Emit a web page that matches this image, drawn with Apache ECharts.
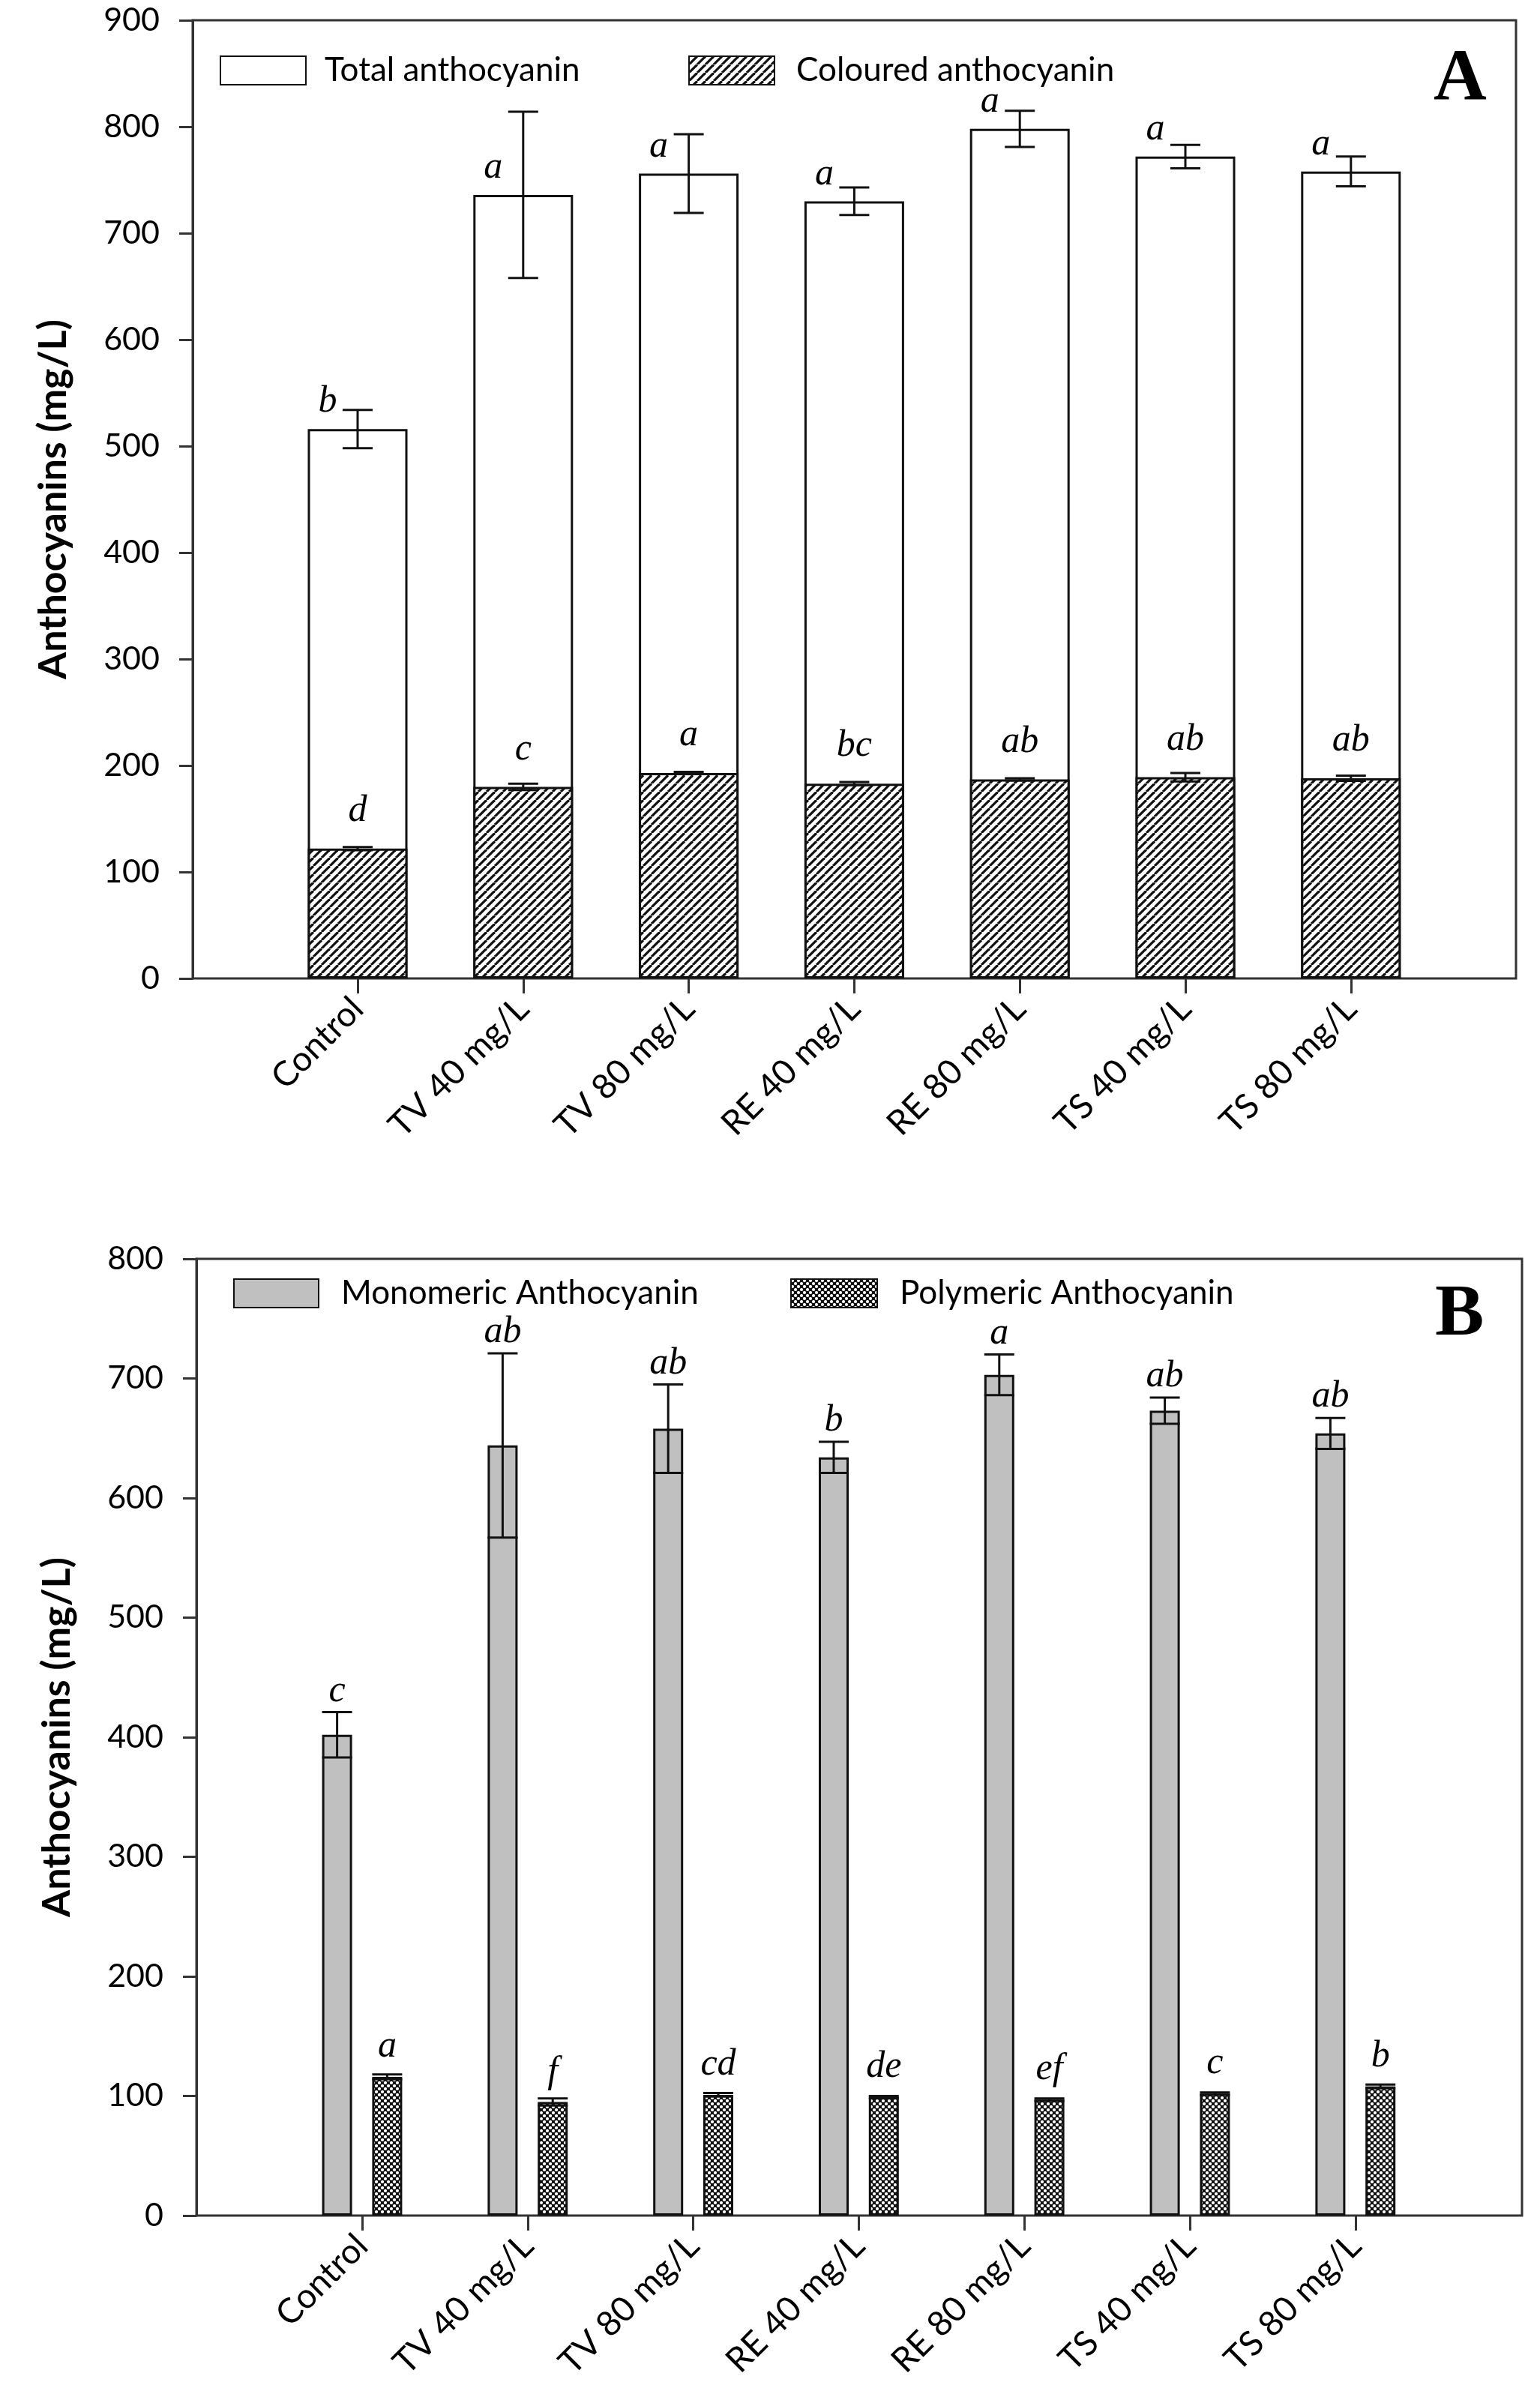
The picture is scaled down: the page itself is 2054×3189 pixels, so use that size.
<!DOCTYPE html>
<html><head><meta charset="utf-8">
<script src="https://cdn.jsdelivr.net/npm/echarts@6/dist/echarts.min.js"></script>
<style>html,body{margin:0;padding:0;background:#fff}#c{width:2054px;height:3189px}</style>
</head><body><div id="c"></div>
<script>
// ---------- data ----------
const categories = ['Control','TV 40 mg/L','TV 80 mg/L','RE 40 mg/L','RE 80 mg/L','TS 40 mg/L','TS 80 mg/L'];
const totalA = [516, 736, 756, 730, 798, 772, 758];
const totalAErr = [18, 78, 37, 13, 17, 11, 14];
const totalALetters = ['b','a','a','a','a','a','a'];
const colouredA = [122, 180, 193, 183, 187, 189, 188];
const colouredAErr = [1.5, 3, 1, 1.5, 1, 4, 2.5];
const colouredALetters = ['d','c','a','bc','ab','ab','ab'];
const monoB = [402, 644, 658, 634, 703, 673, 654];
const monoBErr = [19, 77, 37, 13, 17, 11, 13];
const monoBLetters = ['c','ab','ab','b','a','ab','ab'];
const polyB = [116, 95, 101, 99, 97, 102, 108];
const polyBErr = [2, 3, 1.5, 1, 1, 1, 1.5];
const polyBLetters = ['a','f','cd','de','ef','c','b'];
const yTicksA = {min: 0, max: 900, interval: 100};
const yTicksB = {min: 0, max: 800, interval: 100};

// ---------- patterns ----------
function hatch(){
  const P = 11, c = document.createElement('canvas'); c.width = P; c.height = P;
  const g = c.getContext('2d'); g.fillStyle = '#fff'; g.fillRect(0,0,P,P);
  g.strokeStyle = '#111'; g.lineWidth = 3.2;
  for (const k of [-P, 0, P]) { g.beginPath(); g.moveTo(k, P); g.lineTo(k + P, 0); g.stroke(); }
  return c;
}
function cross(){
  const P = 8, c = document.createElement('canvas'); c.width = P; c.height = P;
  const g = c.getContext('2d'); g.fillStyle = '#111'; g.fillRect(0,0,P,P);
  g.fillStyle = '#fff';
  for (const [cx, cy] of [[2,2],[6,6]]) { g.beginPath(); g.arc(cx, cy, 2.1, 0, Math.PI * 2); g.fill(); }
  return c;
}
const hatchFill = {image: hatch(), repeat: 'repeat'};
const crossFill = {image: cross(), repeat: 'repeat'};

const FONT = 'Lato';
const letterFont = 'italic 50px "Liberation Serif"';

function errSeries(vals, errs, letters, o){
  return {
    type: 'custom', xAxisIndex: o.ax, yAxisIndex: o.ax, z: 5, silent: true,
    data: vals.map((v, i) => [i, v, errs[i]]),
    renderItem: function(params, api){
      const i = api.value(0), v = api.value(1), e = api.value(2);
      const c = api.coord([i, v]);
      const x = c[0] + o.dx;
      const yt = api.coord([i, v + e])[1], yb = api.coord([i, v - e])[1];
      const hw = o.cap / 2;
      const ls = {stroke: '#111', lineWidth: 3};
      const anchorY = o.anchor === 'err' ? yt : c[1];
      return {type: 'group', children: [
        {type: 'line', shape: {x1: x, y1: yt, x2: x, y2: yb}, style: ls},
        {type: 'line', shape: {x1: x - hw, y1: yt, x2: x + hw, y2: yt}, style: ls},
        {type: 'line', shape: {x1: x - hw, y1: yb, x2: x + hw, y2: yb}, style: ls},
        {type: 'text', x: x + o.ldx, y: anchorY - o.ldy,
          style: {text: letters[params.dataIndex], font: letterFont, fill: '#000', align: 'center', verticalAlign: 'middle'}}
      ]};
    }
  };
}

function yAxisBox(gi, t){
  return {gridIndex: gi, type: 'value', min: t.min, max: t.max, interval: t.interval,
    name: 'Anthocyanins (mg/L)', nameLocation: 'middle', nameRotate: 90, nameGap: 160,
    nameTextStyle: {fontFamily: FONT, fontWeight: 'bold', fontSize: 52, color: '#000'},
    axisLine: {show: true, lineStyle: {color: '#333', width: 3}},
    axisTick: {show: true, length: 18, lineStyle: {color: '#333', width: 3}},
    axisLabel: {fontFamily: FONT, fontSize: 43, color: '#000', margin: 44},
    splitLine: {show: false}};
}
function yAxisHidden(gi, t){
  return {gridIndex: gi, type: 'value', min: t.min, max: t.max, interval: t.interval, show: false};
}
function xAxisCat(gi){
  return {gridIndex: gi, type: 'category', data: categories,
    axisLine: {show: false},
    axisTick: {show: true, alignWithLabel: true, length: 20, lineStyle: {color: '#333', width: 3}},
    axisLabel: {interval: 0, rotate: 45, fontFamily: FONT, fontSize: 46, color: '#000', margin: 33},
    splitLine: {show: false}};
}
function xAxisBox(gi){ return {gridIndex: gi, type: 'value', min: 0, max: 1, show: false}; }

const chart = echarts.init(document.getElementById('c'), null, {renderer: 'canvas'});
const bStyle = {borderColor: '#111', borderWidth: 3};
chart.setOption({
  backgroundColor: '#fff',
  animation: false,
  grid: [
    {left: 257, top: 27, width: 1765, height: 1278, show: true, borderColor: '#333', borderWidth: 3, backgroundColor: 'transparent'},
    {left: 366.6, top: 27, width: 1545.6, height: 1278},
    {left: 262, top: 1679, width: 1768, height: 1276, show: true, borderColor: '#333', borderWidth: 3, backgroundColor: 'transparent'},
    {left: 372.6, top: 1679, width: 1545.6, height: 1276}
  ],
  xAxis: [xAxisBox(0), xAxisCat(1), xAxisBox(2), xAxisCat(3)],
  yAxis: [yAxisBox(0, yTicksA), yAxisHidden(1, yTicksA), yAxisBox(2, yTicksB), yAxisHidden(3, yTicksB)],
  legend: [
    {left: 288, top: 67, itemWidth: 114, itemHeight: 38, icon: 'rect', data: ['Total anthocyanin'],
      textStyle: {fontFamily: FONT, fontSize: 44, color: '#000', padding: [0,0,0,20]}},
    {left: 913, top: 67, itemWidth: 114, itemHeight: 38, icon: 'rect', data: ['Coloured anthocyanin'],
      textStyle: {fontFamily: FONT, fontSize: 44, color: '#000', padding: [0,0,0,24]}},
    {left: 306, top: 1698, itemWidth: 113, itemHeight: 38, icon: 'rect', data: ['Monomeric Anthocyanin'],
      textStyle: {fontFamily: FONT, fontSize: 44, color: '#000', padding: [0,0,0,25]}},
    {left: 1049, top: 1698, itemWidth: 115, itemHeight: 38, icon: 'rect', data: ['Polymeric Anthocyanin'],
      textStyle: {fontFamily: FONT, fontSize: 44, color: '#000', padding: [0,0,0,25]}}
  ],
  graphic: [
    {type: 'text', left: 1912, top: 58, style: {text: 'A', font: 'bold 98px "Liberation Serif"', fill: '#000'}},
    {type: 'text', left: 1914, top: 1706, style: {text: 'B', font: 'bold 98px "Liberation Serif"', fill: '#000'}}
  ],
  series: [
    {name: 'Total anthocyanin', type: 'bar', xAxisIndex: 1, yAxisIndex: 1, data: totalA, barWidth: 133, barGap: '-100%',
      itemStyle: Object.assign({color: '#fff'}, bStyle)},
    {name: 'Coloured anthocyanin', type: 'bar', xAxisIndex: 1, yAxisIndex: 1, data: colouredA, barWidth: 133, barGap: '-100%',
      itemStyle: Object.assign({color: hatchFill}, bStyle)},
    errSeries(totalA, totalAErr, totalALetters, {ax: 1, dx: 0, cap: 40, anchor: 'bar', ldx: -40, ldy: 36}),
    errSeries(colouredA, colouredAErr, colouredALetters, {ax: 1, dx: 0, cap: 40, anchor: 'bar', ldx: 0, ldy: 50}),
    {name: 'Monomeric Anthocyanin', type: 'bar', xAxisIndex: 3, yAxisIndex: 3, data: monoB, barWidth: 40, barGap: '67%',
      itemStyle: Object.assign({color: '#c0c0c0'}, bStyle)},
    {name: 'Polymeric Anthocyanin', type: 'bar', xAxisIndex: 3, yAxisIndex: 3, data: polyB, barWidth: 40, barGap: '67%',
      itemStyle: Object.assign({color: crossFill}, bStyle)},
    errSeries(monoB, monoBErr, monoBLetters, {ax: 3, dx: -33.4, cap: 40, anchor: 'err', ldx: 0, ldy: 28}),
    errSeries(polyB, polyBErr, polyBLetters, {ax: 3, dx: 33.4, cap: 40, anchor: 'bar', ldx: 0, ldy: 40})
  ]
});
</script></body></html>
